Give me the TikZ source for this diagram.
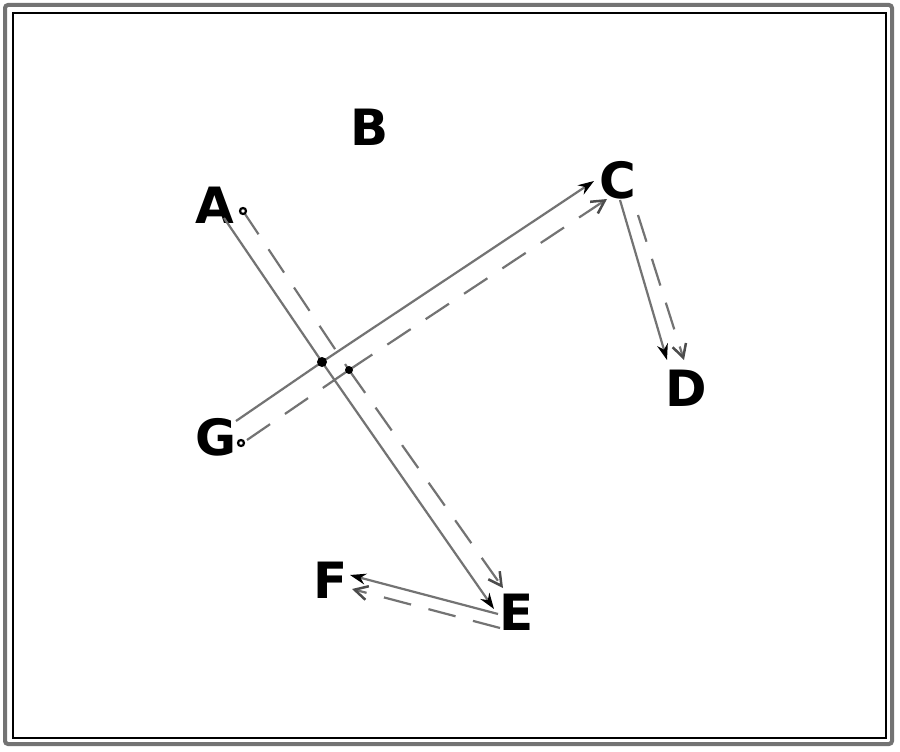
\documentclass[tikz,border=0pt]{standalone}
\usepackage{fontspec}
\setmainfont{DejaVu Sans}
\usetikzlibrary{arrows.meta}
\begin{document}
\begin{tikzpicture}[x=1pt,y=-1pt,
  lbl/.style={font=\fontsize{50}{52}\selectfont\bfseries, inner sep=0pt},
  sol/.style={draw=black!55, line width=2.2pt, -{Stealth[length=16pt,width=11pt,color=black]}},
  dsh/.style={draw=black!55, line width=2.2pt, dash pattern=on 28pt off 18pt, -{Straight Barb[length=13pt,width=14pt,line width=2.5pt,color=black!70]}},
  plain/.style={draw=black!55, line width=2.2pt},
  plaindsh/.style={draw=black!55, line width=2.2pt, dash pattern=on 28pt off 18pt}]
\useasboundingbox (0,0) rectangle (900,752);
\fill[white] (0,0) rectangle (900,752);
\draw[black!55, line width=4pt, rounded corners=3pt] (5,5) rectangle (892,744);
\draw[black, line width=1.5pt] (13,13) rectangle (886,738);
% labels
\node[lbl] (A) at (215,205) {A};
\node[lbl] (B) at (370,127) {B};
\node[lbl] (C) at (618,180) {C};
\node[lbl] (D) at (686,388) {D};
\node[lbl] (E) at (517,612) {E};
\node[lbl] (F) at (331,580) {F};
\node[lbl] (G) at (216,437) {G};
% points
\coordinate (a1) at (224,218);
\coordinate (a2) at (243,211);
\coordinate (g1) at (236,421);
\coordinate (g2) at (247,440);
\coordinate (x1) at (322,362);
\coordinate (x2) at (349,370);
\coordinate (c1) at (594,181);
\coordinate (c2) at (607,199);
\coordinate (c3) at (620,200);
\coordinate (c4) at (638,215);
\coordinate (d1) at (667,360);
\coordinate (d2) at (684,360);
\coordinate (e1) at (494,609);
\coordinate (e2) at (503,588);
\coordinate (e3) at (498,614);
\coordinate (e4) at (500,628);
\coordinate (f1) at (350,575);
\coordinate (f2) at (352,589);
% lines A-E
\draw[plain] (a1) -- (x1);
\draw[sol] (x1) -- (e1);
\draw[plaindsh] (a2) -- (x2);
\draw[dsh] (x2) -- (e2);
% lines G-C
\draw[plain] (g1) -- (x1);
\draw[sol] (x1) -- (c1);
\draw[plaindsh] (g2) -- (x2);
\draw[dsh] (x2) -- (c2);
% C-D
\draw[sol] (c3) -- (d1);
\draw[dsh] (c4) -- (d2);
% E-F
\draw[sol] (e3) -- (f1);
\draw[dsh] (e4) -- (f2);
% dots
\fill[black] (x1) circle (5pt);
\fill[black] (x2) circle (4pt);
\draw[black, line width=2.2pt, fill=white] (a2) circle (3pt);
\draw[black, line width=2.2pt, fill=white] (241,443) circle (3pt);
\end{tikzpicture}
\end{document}
